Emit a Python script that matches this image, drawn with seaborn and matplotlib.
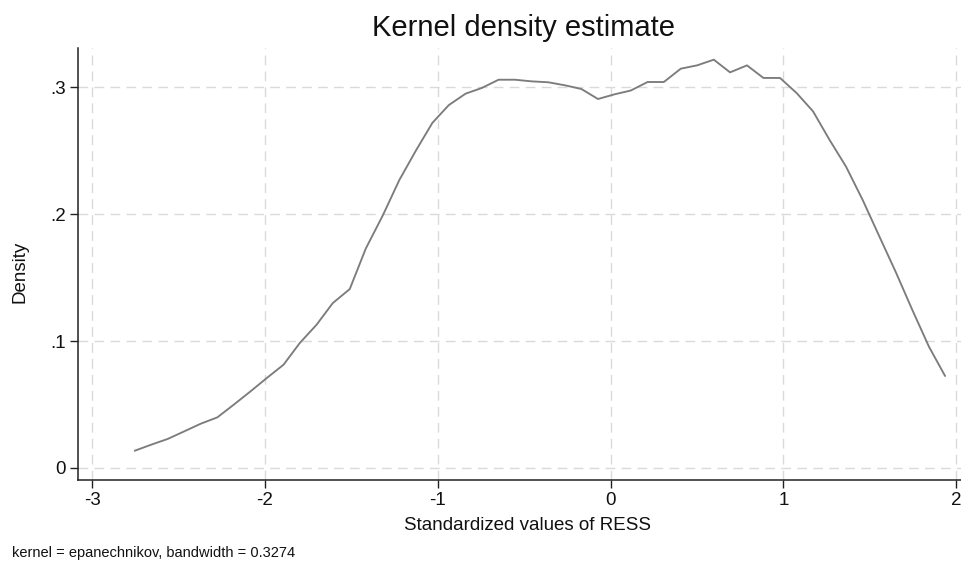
import matplotlib
matplotlib.use("Agg")
import matplotlib.pyplot as plt
import seaborn as sns
import pandas as pd

x_values = [-2.753, -2.657, -2.562, -2.466, -2.371, -2.275, -2.180, -2.083, -1.989, -1.892,
            -1.798, -1.701, -1.607, -1.509, -1.416, -1.318, -1.222, -1.127, -1.031, -0.936,
            -0.839, -0.745, -0.648, -0.554, -0.456, -0.361, -0.264, -0.169, -0.073, 0.023,
            0.117, 0.214, 0.308, 0.406, 0.500, 0.597, 0.691, 0.789, 0.884, 0.980,
            1.076, 1.171, 1.267, 1.362, 1.459, 1.553, 1.651, 1.744, 1.842, 1.935]
density = [0.0136, 0.0184, 0.0229, 0.0289, 0.0349, 0.0399, 0.0499, 0.0604, 0.0709, 0.0814,
           0.0985, 0.1129, 0.1300, 0.1410, 0.1730, 0.1990, 0.2270, 0.2500, 0.2720, 0.2860,
           0.2950, 0.2995, 0.3060, 0.3060, 0.3047, 0.3040, 0.3016, 0.2987, 0.2908, 0.2945,
           0.2975, 0.3042, 0.3042, 0.3147, 0.3173, 0.3218, 0.3118, 0.3173, 0.3074, 0.3074,
           0.2955, 0.2811, 0.2585, 0.2375, 0.2110, 0.1830, 0.1540, 0.1250, 0.0955, 0.0725]

x_ticks = [-3, -2, -1, 0, 1, 2]
x_tick_labels = ["-3", "-2", "-1", "0", "1", "2"]
y_ticks = [0, 0.1, 0.2, 0.3]
y_tick_labels = ["0", ".1", ".2", ".3"]

title = "Kernel density estimate"
x_label = "Standardized values of RESS"
y_label = "Density"
note = "kernel = epanechnikov, bandwidth = 0.3274"

sns.set_style("white")
plt.rcParams['font.family'] = ['Liberation Sans', 'DejaVu Sans']

W, H = 961, 565
fig = plt.figure(figsize=(W / 100, H / 100), dpi=100)
left, right, top, bottom = 78, 961, 48, 480
ax = fig.add_axes([left / W, 1 - bottom / H, (right - left) / W, (bottom - top) / H])

df = pd.DataFrame({"x": x_values, "density": density})
sns.lineplot(data=df, x="x", y="density", ax=ax, color="#7c7c7c", linewidth=1.35,
             estimator=None, sort=False, zorder=3)

ax.set_xlim(-3.081, 2.027)
ax.set_ylim(-0.00946, 0.331)
ax.set_xticks(x_ticks)
ax.set_xticklabels(x_tick_labels)
ax.set_yticks(y_ticks)
ax.set_yticklabels(y_tick_labels)

ax.grid(True, color="#dadada", linestyle=(0, (7, 4.5)), linewidth=1.0, zorder=0)
for s in ["top", "right"]:
    ax.spines[s].set_visible(False)
for s in ["left", "bottom"]:
    ax.spines[s].set_color("#222222")
    ax.spines[s].set_linewidth(1.1)

ax.tick_params(axis="both", which="major", direction="out", length=5.5, width=1.0,
               color="#222222", labelsize=13.5, labelcolor="#111111", pad=3,
               left=True, bottom=True)

ax.set_xlabel("")
ax.set_ylabel("")
fig.text(524 / W, 1 - 28 / H, title, ha="center", va="center",
         fontsize=21, color="#111111")
fig.text(528 / W, 1 - 525 / H, x_label, ha="center", va="center",
         fontsize=13.5, color="#111111")
fig.text(20 / W, 1 - 272 / H, y_label, ha="center", va="center", rotation=90,
         fontsize=13.5, color="#111111")
fig.text(12 / W, 1 - 553 / H, note, ha="left", va="center", fontsize=10.5, color="#111111")

fig.savefig("out.png", dpi=100)
